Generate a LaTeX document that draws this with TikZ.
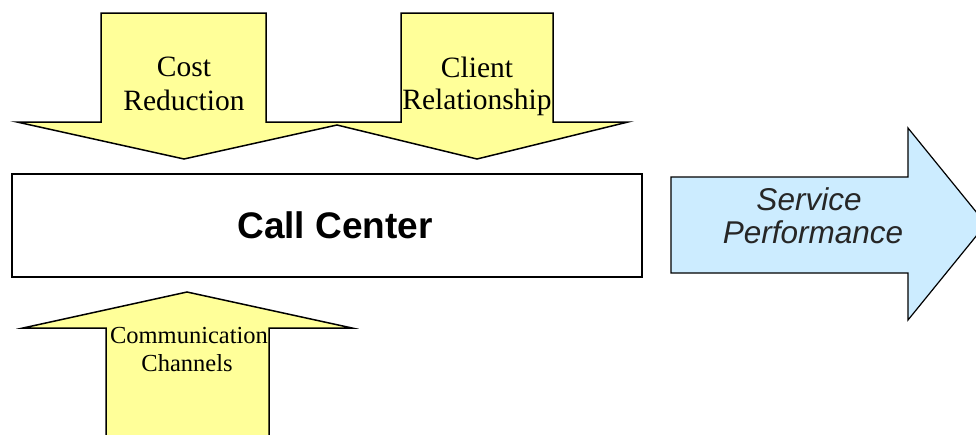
\documentclass[tikz,border=0pt]{standalone}
\usepackage{fontspec}
\setmainfont{Liberation Serif}
\newfontfamily\arialfont{Liberation Sans}
\definecolor{padyellow}{HTML}{FFFF99}
\definecolor{padblue}{HTML}{CCECFF}
\begin{document}
\begin{tikzpicture}[x=1pt,y=-1pt,
  outline/.style={draw=black,line width=1.5pt,line join=miter},
  serifline/.style={inner sep=0pt,anchor=base,font=\fontsize{29.5}{33}\selectfont},
  sansline/.style={inner sep=0pt,anchor=base,font=\arialfont\itshape\fontsize{31.5}{33}\selectfont,text=black!85}]
\useasboundingbox (0,0) rectangle (976,434);

% two downward arrows, merged where their heads overlap
\path[outline,fill=padyellow]
  (101,13) -- (266,13) -- (266,122) -- (401,122) -- (401,13) -- (553,13)
  -- (553,122) -- (628,122) -- (477,159) -- (337,125) -- (184,159)
  -- (17,122) -- (101,122) -- cycle;

% upward arrow at the bottom
\path[outline,fill=padyellow]
  (106,440) -- (106,328) -- (23,328) -- (187,292) -- (352,328)
  -- (269,328) -- (269,440);

% central box
\node[outline,fill=white,minimum width=630pt,minimum height=103pt,inner sep=0pt]
  (center) at (327,225.5) {};
\node[font=\arialfont\bfseries\fontsize{37}{40}\selectfont] (centerlabel)
  at ([xshift=8pt]center.center) {Call Center};

% output arrow
\path[outline,fill=padblue,line width=1.2pt]
  (671,177) -- (908,177) -- (908,128) -- (986,224) -- (908,320)
  -- (908,273) -- (671,273) -- cycle;

% labels
\node[serifline] (cost1) at (184,76) {Cost};
\node[serifline] (cost2) at (184,110) {Reduction};
\node[serifline] (client1) at (477,77) {Client};
\node[serifline] (client2) at (477,109) {Relationship};
\node[serifline,font=\fontsize{24.5}{28}\selectfont] (comm1) at (189,343) {Communication};
\node[serifline,font=\fontsize{24.5}{28}\selectfont] (comm2) at (187,371) {Channels};
\node[sansline] (serv1) at (809,210) {Service};
\node[sansline] (serv2) at (813,243) {Performance};
\end{tikzpicture}
\end{document}
